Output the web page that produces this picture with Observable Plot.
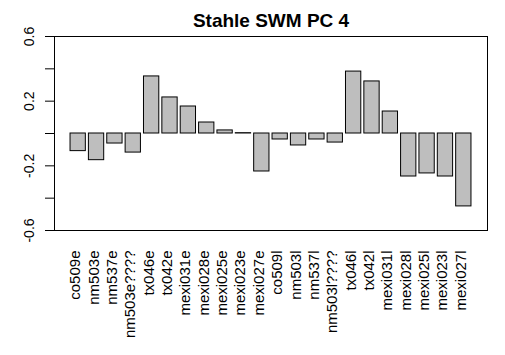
<!DOCTYPE html>
<html>
<head>
<meta charset="utf-8">
<script src="https://cdn.jsdelivr.net/npm/d3@7"></script>
<script src="https://cdn.jsdelivr.net/npm/@observablehq/plot@0.6"></script>
<style>
  html, body { margin: 0; padding: 0; background: white; }
</style>
</head>
<body>
<div id="chart"></div>
<script>
const title = "Stahle SWM PC 4";
const names = ["co509e","nm503e","nm537e","nm503e????","tx046e","tx042e","mexi031e","mexi028e","mexi025e","mexi023e","mexi027e",
               "co509l","nm503l","nm537l","nm503l????","tx046l","tx042l","mexi031l","mexi028l","mexi025l","mexi023l","mexi027l"];
const values = [-0.109,-0.165,-0.062,-0.118,0.353,0.223,0.167,0.068,0.019,0.002,-0.235,
                -0.037,-0.074,-0.037,-0.056,0.383,0.322,0.136,-0.266,-0.247,-0.266,-0.451];
const yTicks = [-0.6,-0.4,-0.2,0,0.2,0.4,0.6];
const yLabelValues = [-0.6,-0.2,0.2,0.6];
const yLabelTexts = ["-0.6","-0.2","0.2","0.6"];

const data = names.map((name, i) => ({name, value: values[i]}));
const yLabels = yLabelValues.map((v, i) => ({v, t: yLabelTexts[i]}));
const font = "'Liberation Sans', Arial, Helvetica, sans-serif";

const chart = Plot.plot({
  width: 505,
  height: 355,
  marginLeft: 54,
  marginRight: 18,
  marginTop: 36,
  marginBottom: 125,
  style: {background: "white", fontFamily: font, color: "black"},
  x: {domain: names, paddingInner: 1/6, paddingOuter: 0.873, align: 0.5, round: false, axis: null},
  y: {domain: [-0.6, 0.6], axis: null},
  marks: [
    Plot.barY(data, {x: "name", y: "value", fill: "#bebebe", stroke: "black", strokeWidth: 1, inset: 0}),
    Plot.frame({stroke: "black", strokeWidth: 1}),
    Plot.axisY({ticks: yTicks, tickSize: 9, tickFormat: () => "", label: null, stroke: "black", strokeOpacity: 1}),
    Plot.text(yLabels, {y: "v", text: "t", frameAnchor: "left", rotate: -90, textAnchor: "middle", dx: -25, fontSize: 14, fill: "black"}),
    Plot.text(names, {x: d => d, text: d => d, frameAnchor: "bottom", rotate: -90, textAnchor: "end", dx: 2, dy: 20, fontSize: 15, fill: "black"}),
    Plot.text([title], {text: d => d, frameAnchor: "top", lineAnchor: "bottom", dy: -10, fontSize: 19, fontWeight: "bold", fill: "black"})
  ]
});
document.getElementById("chart").appendChild(chart);
</script>
</body>
</html>
